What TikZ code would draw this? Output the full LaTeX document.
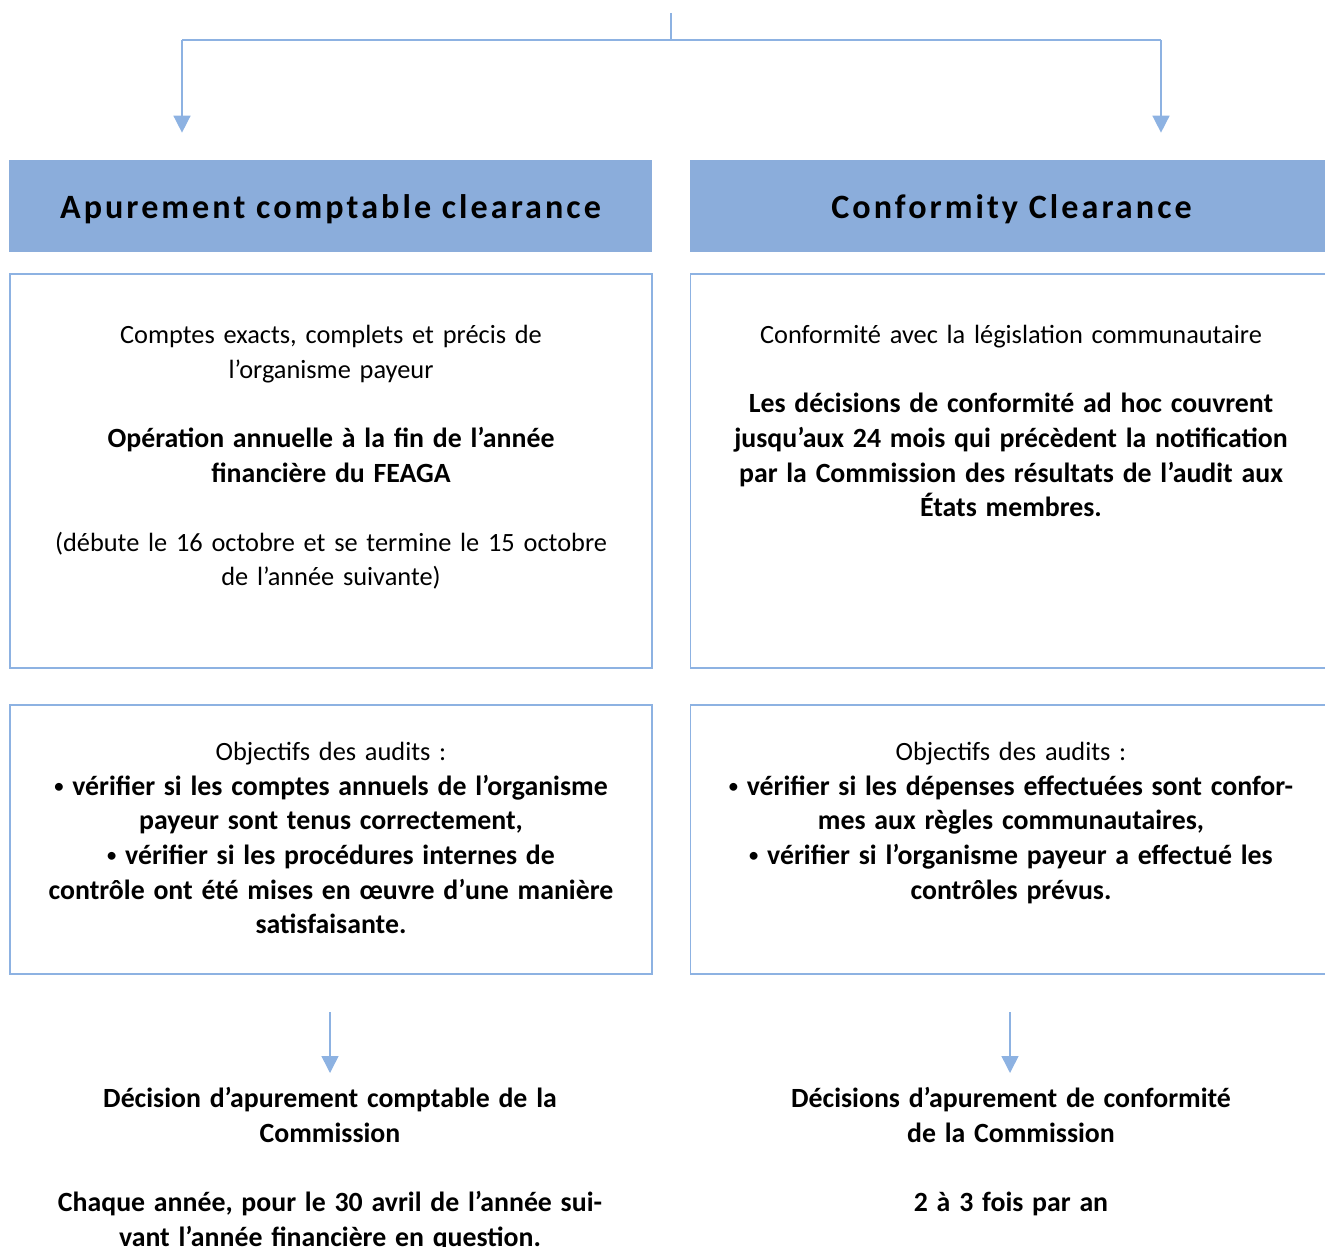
\documentclass[tikz,border=0pt]{standalone}
\usepackage{fontspec}
\setmainfont{Carlito}[BoldFeatures={Scale=1.055}]
\newfontfamily\headfont[LetterSpace=9]{Carlito}
\usetikzlibrary{arrows.meta}
\definecolor{hdrblue}{RGB}{139,173,219}
\definecolor{lineblue}{RGB}{141,178,226}
\newcommand\smallbullet{\raisebox{0.1em}{\fontsize{10}{10}\selectfont•}}
\tikzset{
  hdrbox/.style={fill=hdrblue, minimum width=12.86cm, minimum height=1.84cm, inner sep=0pt,
    text height=18.6pt, text depth=3.9pt, font=\headfont\bfseries\fontsize{19.4}{23}\selectfont},
  framebox/.style={draw=lineblue, line width=0.03cm, inner sep=0pt, minimum width=12.84cm},
  bodytext/.style={align=center, text width=12.5cm, inner sep=0pt, anchor=north,
    font=\fontsize{15}{19.7}\selectfont},
  linkline/.style={draw=lineblue, line width=0.03cm},
  linkarrow/.style={linkline, -{Triangle[width=0.34cm,length=0.34cm]}},
}
\begin{document}
\begin{tikzpicture}[x=0.02cm,y=-0.02cm]
  \useasboundingbox (0,0) rectangle (1325,1247);
  \clip (0,0) rectangle (1325,1247);

  % Marking split points of the top connector
  \coordinate (title) at (671,13);%
  \coordinate (split) at (671,40);%
  \coordinate (splitL) at (182,40);%
  \coordinate (splitR) at (1161,40);%

  % Drawing header boxes
  \node (hdrL) [hdrbox] at (330.5,206) {Apurement comptable clearance};%
  \node (hdrR) [hdrbox] at (1011.5,206) {Conformity Clearance};%

  % Drawing top connector with arrows
  \draw [linkline] (title) -- (split);%
  \draw [linkline] (splitL) -- (splitR);%
  \draw [linkarrow, shorten >=0.54cm] (splitL) -- (splitL |- hdrL.north);%
  \draw [linkarrow, shorten >=0.54cm] (splitR) -- (splitR |- hdrR.north);%

  % Drawing first row of frames
  \node (boxL) [framebox, minimum height=7.88cm] at (331,471) {};%
  \node (boxR) [framebox, minimum height=7.88cm] at (1011.5,471) {};%
  \node (txtL) [bodytext] at (331,325) {Comptes exacts, complets et précis de\\ l’organisme payeur\\[19.7pt]
    \textbf{Opération annuelle à la fin de l’année\\ financière du FEAGA}\\[19.7pt]
    (débute le 16 octobre et se termine le 15 octobre\\ de l’année suivante)};%
  \node (txtR) [bodytext] at (1011,325) {Conformité avec la législation communautaire\\[19.7pt]
    \textbf{Les décisions de conformité ad hoc couvrent\\ jusqu’aux 24 mois qui précèdent la notification\\
    par la Commission des résultats de l’audit aux\\ États membres.}};%

  % Drawing second row of frames
  \node (auditL) [framebox, minimum height=5.38cm] at (331,839.5) {};%
  \node (auditR) [framebox, minimum height=5.38cm] at (1011.5,839.5) {};%
  \node (goalL) [bodytext] at (331,742) {Objectifs des audits :\\
    \textbf{\smallbullet{} vérifier si les comptes annuels de l’organisme\\ payeur sont tenus correctement,\\
    \smallbullet{} vérifier si les procédures internes de\\ contrôle ont été mises en œuvre d’une manière\\ satisfaisante.}};%
  \node (goalR) [bodytext] at (1011,742) {Objectifs des audits :\\
    \textbf{\smallbullet{} vérifier si les dépenses effectuées sont confor-\\ mes aux règles communautaires,\\
    \smallbullet{} vérifier si l’organisme payeur a effectué les\\ contrôles prévus.}};%

  % Drawing decisions below the frames
  \coordinate (arrL) at (330,1012);%
  \coordinate (arrR) at (1010,1012);%
  \node (decL) [bodytext] at (330,1087) {\textbf{Décision d’apurement comptable de la\\ Commission\\[19.7pt]
    Chaque année, pour le 30 avril de l’année sui-\\ vant l’année financière en question.}};%
  \node (decR) [bodytext] at (1011,1087) {\textbf{Décisions d’apurement de conformité\\ de la Commission\\[19.7pt]
    2 à 3 fois par an}};%
  \draw [linkarrow, shorten >=0.28cm] (arrL) -- (arrL |- decL.north);%
  \draw [linkarrow, shorten >=0.28cm] (arrR) -- (arrR |- decR.north);%
\end{tikzpicture}
\end{document}
